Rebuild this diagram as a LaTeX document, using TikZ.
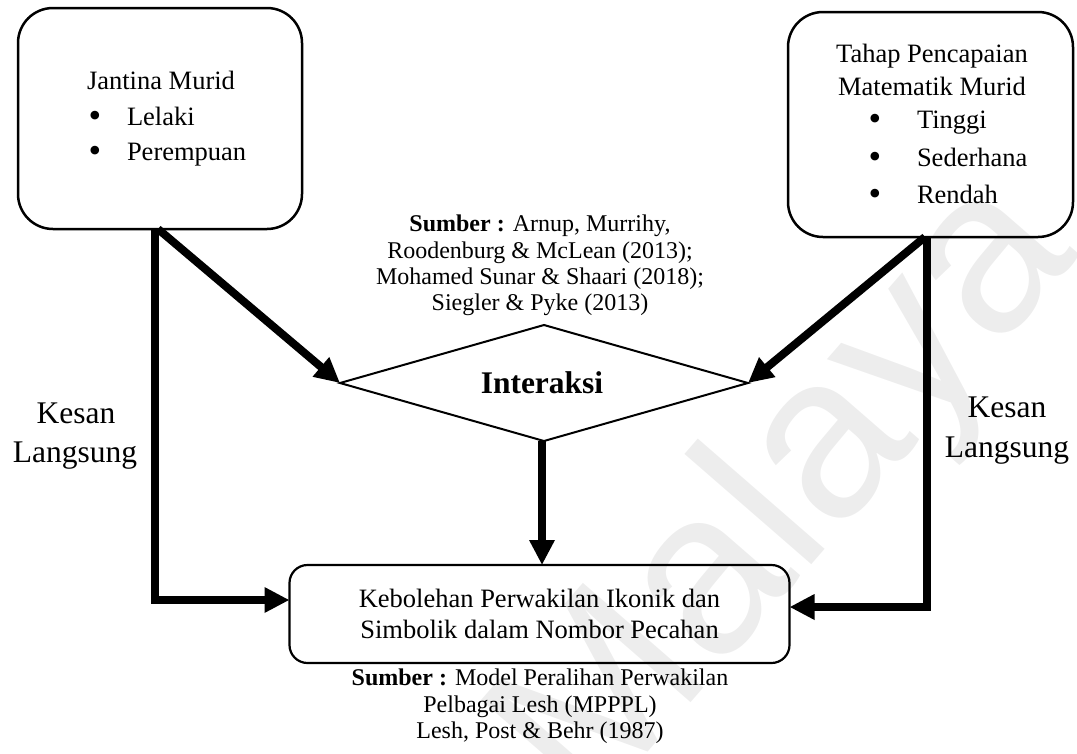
\documentclass[tikz,border=0pt]{standalone}
\usepackage{fontspec}
\setmainfont{Liberation Serif}
\newfontfamily\wmfont{Liberation Sans}
\usetikzlibrary{arrows.meta,shapes.geometric}
\begin{document}
\begin{tikzpicture}[x=1pt,y=-1pt,
  every node/.style={inner sep=0pt, outer sep=0pt},
  roundbox/.style={draw, line width=2.5pt, rounded corners=35pt},
  boxtxt/.style={font=\fontsize{26.5}{30}\selectfont},
  bul/.style={font=\fontsize{36}{40}\selectfont, anchor=base},
  srctxt/.style={font=\fontsize{24}{27}\selectfont, anchor=base},
  kesan/.style={font=\fontsize{31.5}{36}\selectfont, anchor=base},
  conn/.style={line width=8pt, line join=miter, -{Triangle[length=25pt,width=24pt]}},
  wmark/.style={text=black!7, font=\wmfont\fontsize{232}{232}\selectfont, rotate=49}
]
\useasboundingbox (0,0) rectangle (1077,753);
% watermark
\node[wmark] (wm) at (790,498) {Malaya};
% boxes
\node[roundbox, minimum width=284pt, minimum height=221pt] (L) at (160,118.5) {};
\node[roundbox, minimum width=285pt, minimum height=225pt] (R) at (930.5,124.5) {};
\node[diamond, draw, line width=2pt, minimum width=408pt, minimum height=116pt] (D) at (544,383) {};
\node[draw, line width=2.2pt, rounded corners=18pt, minimum width=500pt, minimum height=98pt] (B) at (539.5,614) {};
% left box text
\node[boxtxt, anchor=base west] (l1) at (87,89) {Jantina Murid};
\node[bul] (lb1) at (95,127) {\textbullet};
\node[boxtxt, anchor=base west] (li1) at (127,125) {Lelaki};
\node[bul] (lb2) at (95,162) {\textbullet};
\node[boxtxt, anchor=base west] (li2) at (127,160) {Perempuan};
% right box text
\node[boxtxt, anchor=base] (r1) at (932,62) {Tahap Pencapaian};
\node[boxtxt, anchor=base] (r2) at (932,95) {Matematik Murid};
\node[bul] (rb1) at (875,130) {\textbullet};
\node[boxtxt, anchor=base west] (ri1) at (917,128) {Tinggi};
\node[bul] (rb2) at (875,168) {\textbullet};
\node[boxtxt, anchor=base west] (ri2) at (917,166) {Sederhana};
\node[bul] (rb3) at (875,205) {\textbullet};
\node[boxtxt, anchor=base west] (ri3) at (917,203) {Rendah};
% top source
\node[srctxt] (s1) at (540,231) {\textbf{Sumber :} Arnup, Murrihy,};
\node[srctxt] (s2) at (540,258) {Roodenburg \& McLean (2013);};
\node[srctxt] (s3) at (540,284) {Mohamed Sunar \& Shaari (2018);};
\node[srctxt] (s4) at (540,310) {Siegler \& Pyke (2013)};
% diamond text
\node[font=\fontsize{31.5}{36}\selectfont\bfseries, anchor=base] (dt) at (542,393) {Interaksi};
% bottom box text
\node[boxtxt, anchor=base] (b1) at (539.5,607) {Kebolehan Perwakilan Ikonik dan};
\node[boxtxt, anchor=base] (b2) at (539.5,638) {Simbolik dalam Nombor Pecahan};
% bottom source
\node[srctxt] (t1) at (540,685) {\textbf{Sumber :} Model Peralihan Perwakilan};
\node[srctxt] (t2) at (540,712) {Pelbagai Lesh (MPPPL)};
\node[srctxt] (t3) at (540,738) {Lesh, Post \& Behr (1987)};
% Kesan Langsung labels
\node[kesan] (k1) at (76,423) {Kesan};
\node[kesan] (k2) at (75,462) {Langsung};
\node[kesan] (k3) at (1007,417) {Kesan};
\node[kesan] (k4) at (1007,457) {Langsung};
% connectors
\draw[conn] ([xshift=-5pt]L.south) |- ([yshift=14pt]B.west);
\draw[conn] ([xshift=-2pt]L.south) -- (D.west);
\draw[conn] ([xshift=-3.5pt]R.south) |- ([yshift=7pt]B.east);
\draw[conn] ([xshift=-5.5pt]R.south) -- (D.east);
\draw[conn] ([xshift=-2pt]D.south) -- ([xshift=-2pt]D.south |- B.north);
\end{tikzpicture}
\end{document}
